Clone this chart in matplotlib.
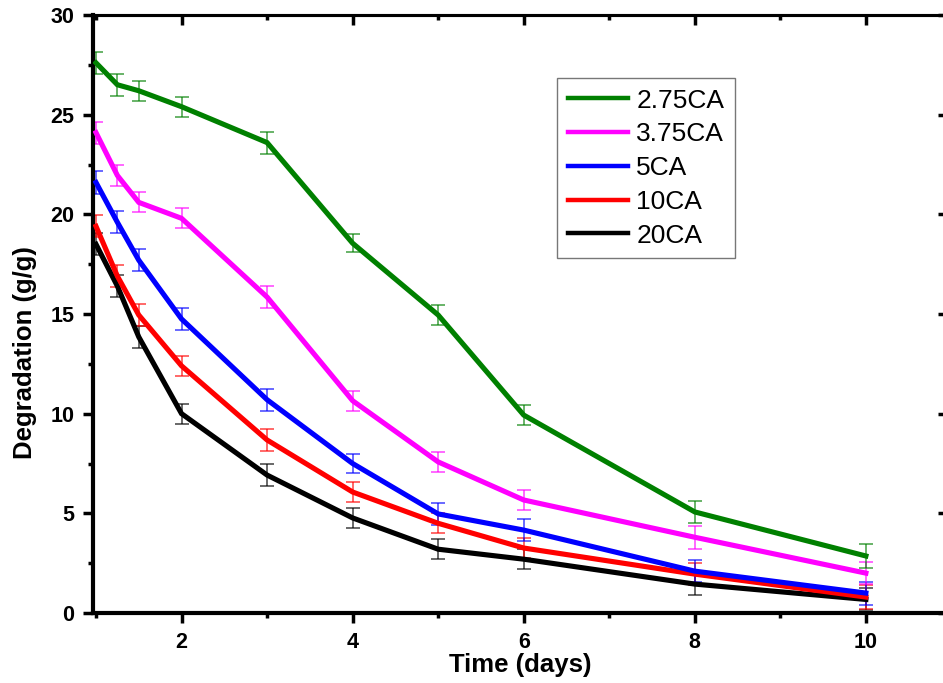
import matplotlib
matplotlib.use("Agg")
import matplotlib.pyplot as plt
from matplotlib.ticker import MultipleLocator

plt.rcParams['font.family'] = ['Liberation Sans', 'DejaVu Sans']

time_days = [1, 1.25, 1.5, 2, 3, 4, 5, 6, 8, 10]

series_names = ["2.75CA", "3.75CA", "5CA", "10CA", "20CA"]
series_colors = ["#008000", "#ff00ff", "#0000ff", "#ff0000", "#000000"]

ca_275 = [27.6, 26.5, 26.2, 25.4, 23.6, 18.55, 14.95, 9.93, 5.07, 2.86]
ca_375 = [24.1, 21.95, 20.6, 19.8, 15.85, 10.65, 7.58, 5.67, 3.8, 2.0]
ca_5 = [21.6, 19.6, 17.7, 14.75, 10.7, 7.5, 4.97, 4.16, 2.1, 1.0]
ca_10 = [19.4, 16.9, 14.95, 12.4, 8.68, 6.07, 4.5, 3.26, 1.95, 0.8]
ca_20 = [18.5, 16.4, 13.85, 10.0, 6.92, 4.77, 3.2, 2.7, 1.45, 0.68]

err_275 = [0.55, 0.55, 0.5, 0.5, 0.55, 0.45, 0.5, 0.5, 0.57, 0.58]
err_375 = [0.55, 0.55, 0.5, 0.5, 0.55, 0.5, 0.5, 0.5, 0.58, 0.55]
err_5 = [0.58, 0.55, 0.55, 0.55, 0.55, 0.5, 0.55, 0.55, 0.55, 0.58]
err_10 = [0.55, 0.55, 0.55, 0.5, 0.57, 0.5, 0.5, 0.5, 0.55, 0.6]
err_20 = [0.55, 0.55, 0.55, 0.5, 0.57, 0.5, 0.5, 0.5, 0.55, 0.55]

values = [ca_275, ca_375, ca_5, ca_10, ca_20]
errors = [err_275, err_375, err_5, err_10, err_20]

W, H = 943, 683
fig = plt.figure(figsize=(W / 100, H / 100), dpi=100)
left_px, right_px, bottom_px, top_px = 93, 948, 613, 15
ax = fig.add_axes([left_px / W, 1 - bottom_px / H,
                   (right_px - left_px) / W, (bottom_px - top_px) / H])

handles = []
for i in reversed(range(len(series_names))):
    ax.errorbar(time_days, values[i], yerr=errors[i], fmt='none',
                ecolor=series_colors[i], elinewidth=1.1, capsize=5,
                capthick=1.1, alpha=0.75, zorder=2 + (4 - i) * 0.1)
    line, = ax.plot(time_days, values[i], color=series_colors[i], lw=3.7,
                    solid_joinstyle='miter', zorder=3 + (4 - i) * 0.1,
                    label=series_names[i])
    handles.append(line)
handles = handles[::-1]

ax.set_xlim(0.965, 10.96)
ax.set_ylim(0, 30)
ax.xaxis.set_major_locator(MultipleLocator(2))
ax.xaxis.set_minor_locator(MultipleLocator(1))
ax.yaxis.set_major_locator(MultipleLocator(5))
ax.yaxis.set_minor_locator(MultipleLocator(2.5))

for side in ['left', 'bottom']:
    ax.spines[side].set_linewidth(3.0)
for side in ['top', 'right']:
    ax.spines[side].set_linewidth(2.2)

ax.tick_params(which='major', direction='out', length=7.5, width=2.5,
               labelsize=15.5, pad=6)
ax.tick_params(which='minor', direction='out', length=3.8, width=2.5)
for lab in ax.get_xticklabels() + ax.get_yticklabels():
    lab.set_fontweight('bold')

secx = ax.secondary_xaxis('top')
secx.xaxis.set_major_locator(MultipleLocator(2))
secx.xaxis.set_minor_locator(MultipleLocator(1))
secx.tick_params(which='major', direction='in', length=7.5, width=2.5, labeltop=False)
secx.tick_params(which='minor', direction='in', length=3.8, width=2.5)
secx.spines['top'].set_linewidth(2.2)

secy = ax.secondary_yaxis('right')
secy.yaxis.set_major_locator(MultipleLocator(5))
secy.yaxis.set_minor_locator(MultipleLocator(2.5))
secy.tick_params(which='major', direction='in', length=7.5, width=2.5, labelright=False)
secy.tick_params(which='minor', direction='in', length=3.8, width=2.5)

ax.set_xlabel("Time (days)", fontsize=18.5, fontweight='bold', labelpad=0)
ax.set_ylabel("Degradation (g/g)", fontsize=18.5, fontweight='bold')
ax.yaxis.set_label_coords((37 - left_px) / (right_px - left_px),
                          (bottom_px - 353) / (bottom_px - top_px))

leg = fig.legend(handles, series_names, loc='upper left',
                 bbox_to_anchor=(557 / W, 1 - 78 / H),
                 bbox_transform=fig.transFigure,
                 fontsize=19, frameon=True, fancybox=False, shadow=False,
                 handlelength=2.3, handletextpad=0.3, labelspacing=0.37,
                 borderpad=0.4, borderaxespad=0)
leg.get_frame().set_edgecolor('#555555')
leg.get_frame().set_linewidth(1.0)
for l in leg.get_lines():
    l.set_linewidth(3.2)

fig.savefig("out.png", dpi=100)
